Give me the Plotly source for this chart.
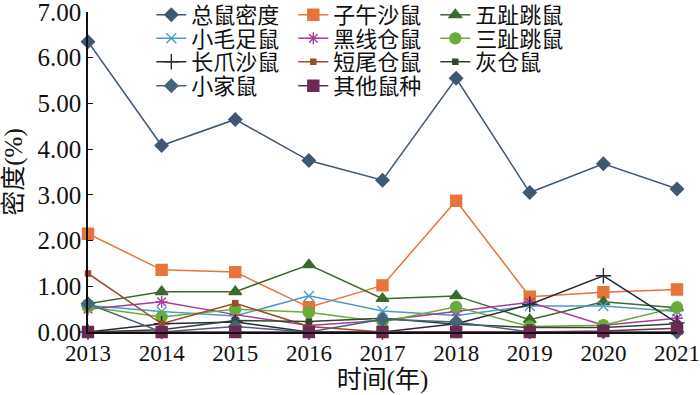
import plotly.graph_objects as go

years = [2013, 2014, 2015, 2016, 2017, 2018, 2019, 2020, 2021]

total = [6.35, 4.08, 4.65, 3.75, 3.32, 5.55, 3.05, 3.68, 3.13]
ziwu = [2.15, 1.36, 1.31, 0.54, 1.02, 2.87, 0.77, 0.87, 0.93]
wuzhi = [0.62, 0.88, 0.88, 1.47, 0.73, 0.79, 0.27, 0.66, 0.53]
xiaomao = [0.58, 0.45, 0.35, 0.79, 0.46, 0.36, 0.57, 0.57, 0.45]
heixian = [0.50, 0.66, 0.38, 0.14, 0.25, 0.45, 0.65, 0.15, 0.30]
sanzhi = [0.55, 0.33, 0.50, 0.43, 0.22, 0.55, 0.12, 0.15, 0.54]
changzhua = [0.0, 0.18, 0.22, 0.0, 0.0, 0.18, 0.60, 1.23, 0.20]
duanwei = [1.28, 0.18, 0.63, 0.12, 0.0, 0.0, 0.0, 0.0, 0.0]
huicang = [0.0, 0.05, 0.25, 0.23, 0.30, 0.17, 0.10, 0.10, 0.18]
xiaojia = [0.62, 0.0, 0.12, 0.0, 0.28, 0.22, 0.0, 0.0, 0.0]
qita = [0.0, 0.0, 0.0, 0.0, 0.0, 0.0, 0.0, 0.02, 0.08]

y_ticks = [0, 1, 2, 3, 4, 5, 6, 7]
y_tick_text = ["0.00", "1.00", "2.00", "3.00", "4.00", "5.00", "6.00", "7.00"]

FONT = "Liberation Serif, Noto Sans CJK SC, serif"

# (name, data, color, symbol, size, legend)
series = [
    ("总鼠密度", total, "#3f5872", "diamond", 10, "legend"),
    ("子午沙鼠", ziwu, "#e8733c", "square", 11, "legend"),
    ("五趾跳鼠", wuzhi, "#3b6a2c", "triangle-up", 11, "legend"),
    ("小毛足鼠", xiaomao, "#4b9bc9", "x-thin", 10, "legend2"),
    ("黑线仓鼠", heixian, "#a63b9b", "asterisk", 10, "legend2"),
    ("三趾跳鼠", sanzhi, "#6aab3b", "circle", 11, "legend2"),
    ("长爪沙鼠", changzhua, "#262b36", "cross-thin", 11, "legend3"),
    ("短尾仓鼠", duanwei, "#9b4a2b", "square", 5, "legend3"),
    ("灰仓鼠", huicang, "#35452c", "square", 5, "legend3"),
    ("小家鼠", xiaojia, "#466479", "diamond", 10, "legend4"),
    ("其他鼠种", qita, "#6b2a52", "square", 11, "legend4"),
]

fig = go.Figure()
for name, vals, color, sym, size, lg in series:
    fig.add_trace(go.Scatter(
        x=years, y=vals, name=name, mode="lines+markers",
        line=dict(color=color, width=1.5),
        marker=dict(symbol=sym, size=size, color=color,
                    line=dict(color=color, width=1.4)),
        cliponaxis=False, legend=lg,
    ))

row_y = [0.9906, 0.917, 0.8438, 0.769]
leg_common = dict(orientation="h", x=0.1075, xanchor="left", yanchor="middle",
                  entrywidth=97, entrywidthmode="pixels",
                  font=dict(family=FONT, size=22, color="#111111"),
                  bgcolor="rgba(0,0,0,0)", borderwidth=0, itemsizing="trace")

fig.update_layout(
    width=700, height=395,
    margin=dict(l=88, r=23, t=12, b=63, autoexpand=False),
    paper_bgcolor="white", plot_bgcolor="white",
    font=dict(family=FONT, color="#111111"),
    showlegend=True,
    legend=dict(leg_common, y=row_y[0]),
    legend2=dict(leg_common, y=row_y[1]),
    legend3=dict(leg_common, y=row_y[2]),
    legend4=dict(leg_common, y=row_y[3]),
    xaxis=dict(range=[2013, 2021], tickmode="array", tickvals=years,
               ticktext=[str(y) for y in years], ticklabeloverflow="allow",
               showline=True, linecolor="#111111", linewidth=1.5,
               showgrid=False, zeroline=False, ticks="",
               tickfont=dict(family=FONT, size=23, color="#111111"),
               title=dict(text="时间(年)", font=dict(family=FONT, size=25, color="#111111"),
                          standoff=1)),
    yaxis=dict(range=[0, 7], tickmode="array", tickvals=y_ticks, ticktext=y_tick_text,
               ticklabeloverflow="allow",
               showline=True, linecolor="#111111", linewidth=1.5,
               showgrid=False, zeroline=False, ticks="inside", ticklen=5,
               tickcolor="#111111",
               tickfont=dict(family=FONT, size=25, color="#111111"),
               title=dict(text="密度(%)", font=dict(family=FONT, size=25, color="#111111"),
                          standoff=8)),
)

fig.write_html("out.html", config={"displayModeBar": False},
               post_script="document.body.style.margin='0';")
